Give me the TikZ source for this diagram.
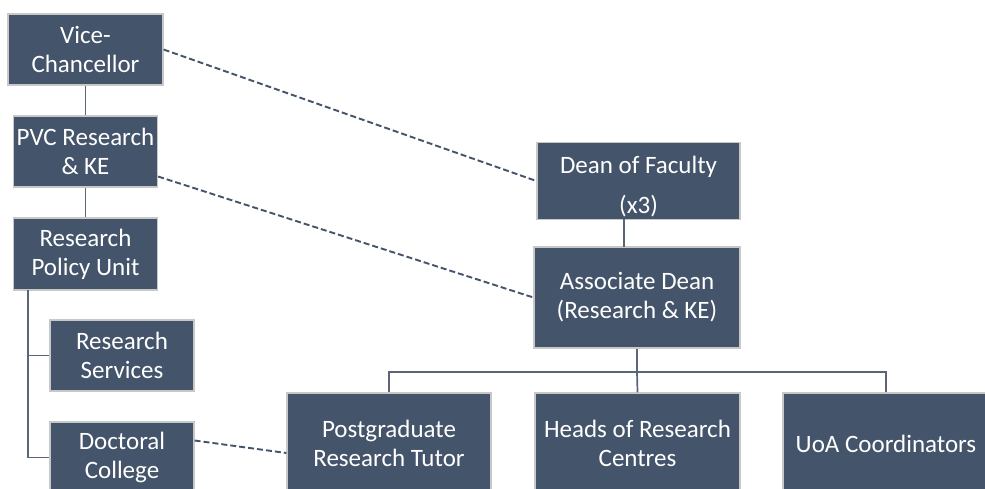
\documentclass[tikz,border=0pt]{standalone}
\usepackage{fontspec}
\setmainfont{Carlito}
\definecolor{boxfill}{HTML}{44546A}
\definecolor{boxedge}{HTML}{C8C8C8}
\definecolor{solidline}{HTML}{5A6579}
\definecolor{dashline}{HTML}{44546A}
\tikzset{
  orgtext/.style={text=white, align=center, inner sep=0pt, font=\fontsize{25}{29}\selectfont},
  orgbox/.style={orgtext, draw=boxedge, line width=1.2pt, fill=boxfill},
  tree/.style={draw=solidline, line width=1.7pt},
  dotlink/.style={draw=dashline, line width=1.9pt, dash pattern=on 6pt off 3pt}
}
\begin{document}
\begin{tikzpicture}[x=1pt,y=-1pt]
\useasboundingbox (0,0) rectangle (985,488);
\clip (0,0) rectangle (985,488);
\fill[white] (0,0) rectangle (985,488);

\node[orgbox, minimum width=155pt, minimum height=71pt] (vc) at (85.5,49.5) {Vice-\\Chancellor};
\node[orgbox, minimum width=144pt, minimum height=71pt] (pvc) at (85.5,151.5) {PVC Research\\\& KE};
\node[orgbox, minimum width=144pt, minimum height=72pt] (rpu) at (85.5,254) {Research\\Policy Unit};
\node[orgbox, minimum width=144pt, minimum height=71pt] (rs) at (122,355.5) {Research\\Services};
\node[orgbox, minimum width=144pt, minimum height=71pt] (dc) at (122,457.5) {Doctoral\\College};

\node[orgbox, minimum width=203pt, minimum height=77pt] (dean) at (638.5,181) {};
\node[orgtext] (deantext) at (638.5,187) {Dean of Faculty\\[11pt](x3)};
\node[orgbox, minimum width=206pt, minimum height=101pt] (ad) at (637,297.5) {Associate Dean\\(Research \& KE)};

\node[orgbox, minimum width=204pt, minimum height=101pt] (pg) at (389,443.5) {Postgraduate\\Research Tutor};
\node[orgbox, minimum width=205pt, minimum height=101pt] (heads) at (637.5,443.5) {Heads of Research\\Centres};
\node[orgbox, minimum width=206pt, minimum height=101pt] (uoa) at (886,443.5) {UoA Coordinators};

% solid tree connectors
\draw[tree] (vc.south) -- (pvc.north);
\draw[tree] (pvc.south) -- (rpu.north);
\coordinate (trunk) at (28,290);
\draw[tree] (trunk) |- (dc.west);
\draw[tree] (trunk |- rs.west) -- (rs.west);

\coordinate (dtop) at (624,219);
\coordinate (dbot) at (624,247);
\draw[tree] (dtop) -- (dbot);

\coordinate (bar) at (637,372);
\draw[tree] (ad.south) -- (bar);
\draw[tree] (pg.north) |- (bar) -| (uoa.north);
\draw[tree] (bar) -- (heads.north);

% dashed links
\draw[dotlink] (vc.east) -- (dean.west);
\draw[dotlink] ([yshift=-25pt]pvc.east) -- (ad.west);
\draw[dotlink] ([yshift=17pt]dc.east) -- ([yshift=-9.5pt]pg.west);
\end{tikzpicture}
\end{document}
